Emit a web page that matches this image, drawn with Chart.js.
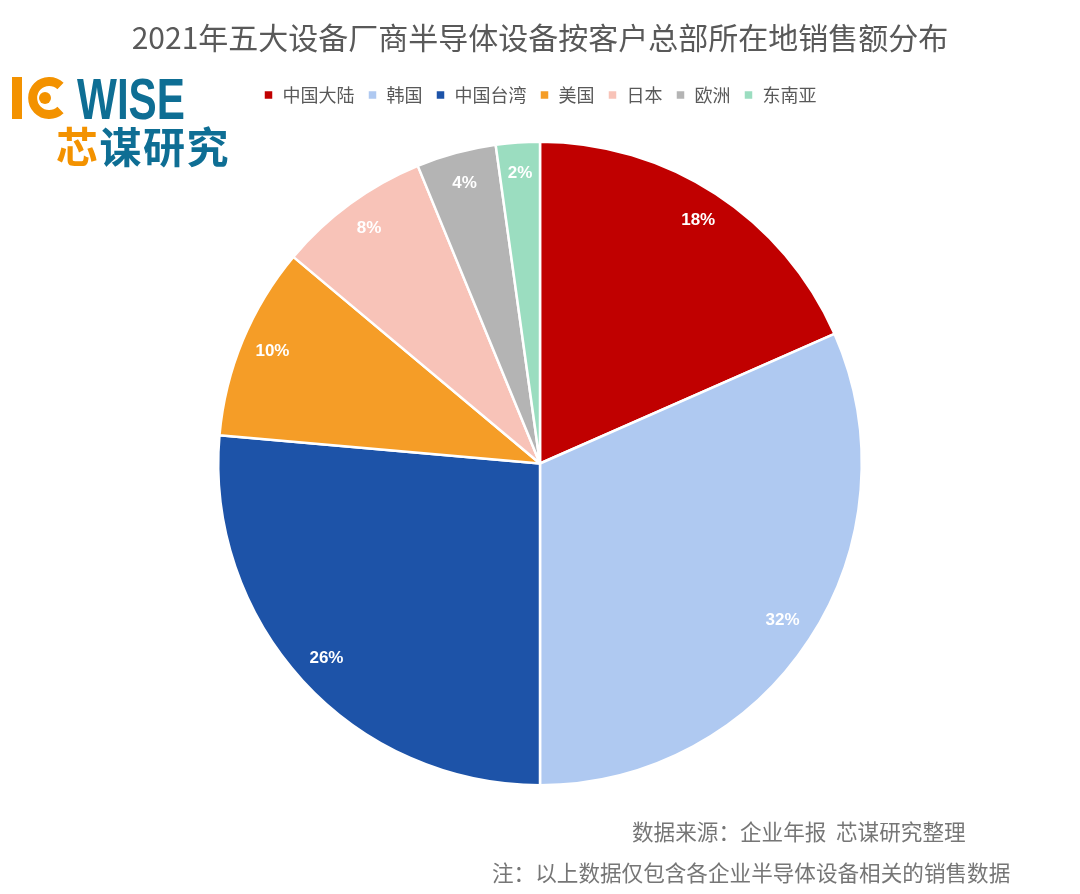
<!DOCTYPE html>
<html>
<head>
<meta charset="utf-8">
<script src="https://cdn.jsdelivr.net/npm/chart.js@4.4.1/dist/chart.umd.min.js"></script>
<style>
  html, body { margin: 0; padding: 0; background: #ffffff; }
  #wrap { position: relative; width: 1080px; height: 894px; overflow: hidden; font-family: "Noto Sans CJK SC", "Noto Sans", sans-serif; }
  #title { position: absolute; left: 0; top: 14px; width: 1080px; text-align: center; font-size: 30px; color: #595959; line-height: 44px; }
  #chartBox { position: absolute; left: 0; top: 0; width: 1080px; height: 894px; }
  .note { position: absolute; color: #767676; font-size: 21.6px; line-height: 30px; white-space: pre; }
  #logo1 { position: absolute; left: 10px; top: 64px; height: 60px; }
  #logo2 { position: absolute; left: 56px; top: 117px; font-size: 42px; font-weight: 700; line-height: 56px; letter-spacing: 1.5px; color: #0E6E94; }
</style>
</head>
<body>
<div id="wrap">
  <div id="chartBox"><canvas id="c" width="1080" height="894"></canvas></div>
  <div id="title">2021年五大设备厂商半导体设备按客户总部所在地销售额分布</div>
  <svg id="logo1" width="190" height="60" viewBox="0 0 190 60">
    <rect x="2" y="13" width="10" height="42" fill="#F39200"/>
    <path d="M 50.5 22 A 16.5 16.5 0 1 0 50.5 46" fill="none" stroke="#F39200" stroke-width="9"/>
    <circle cx="35" cy="34" r="6" fill="#F39200"/>
    <text x="67" y="55" font-family="Liberation Sans, Arial, sans-serif" font-weight="700" font-size="57" fill="#0E6E94" textLength="108" lengthAdjust="spacingAndGlyphs">WISE</text>
  </svg>
  <div id="logo2"><span style="color:#F39200">芯</span>谋研究</div>
  <div class="note" style="left:632px; top:816px;">数据来源：企业年报  芯谋研究整理</div>
  <div class="note" style="left:492px; top:857px;">注：以上数据仅包含各企业半导体设备相关的销售数据</div>
</div>
<script>
const categories = ["中国大陆", "韩国", "中国台湾", "美国", "日本", "欧洲", "东南亚"];
const shares = [18.4, 31.6, 26.4, 9.7, 7.7, 4.0, 2.2];
const shareLabels = ["18%", "32%", "26%", "10%", "8%", "4%", "2%"];
const colors = ["#C00000", "#AFC9F1", "#1D53A8", "#F59D27", "#F8C3B8", "#B4B4B4", "#9BDDC0"];

const labelPlugin = {
  id: 'sliceLabels',
  afterDatasetsDraw(chart) {
    const ctx = chart.ctx;
    const meta = chart.getDatasetMeta(0);
    ctx.save();
    ctx.fillStyle = '#ffffff';
    ctx.font = 'bold 17px "Liberation Sans", Arial, sans-serif';
    ctx.textAlign = 'center';
    ctx.textBaseline = 'middle';
    meta.data.forEach((arc, i) => {
      const p = arc.getProps(['x', 'y', 'startAngle', 'endAngle', 'outerRadius'], true);
      const mid = (p.startAngle + p.endAngle) / 2;
      const r = p.outerRadius * 0.9;
      ctx.fillText(shareLabels[i], p.x + Math.cos(mid) * r, p.y + Math.sin(mid) * r - 1);
    });
    ctx.restore();
  }
};

new Chart(document.getElementById('c'), {
  type: 'pie',
  data: {
    labels: categories,
    datasets: [{
      data: shares,
      backgroundColor: colors,
      borderColor: '#ffffff',
      borderWidth: 2.5
    }]
  },
  options: {
    responsive: false,
    animation: false,
    layout: { padding: { top: 73, bottom: 81, left: 217, right: 217 } },
    plugins: {
      legend: {
        position: 'top',
        labels: {
          boxWidth: 10,
          boxHeight: 10,
          padding: 13,
          color: '#595959',
          font: { family: '"Noto Sans CJK SC", sans-serif', size: 18 }
        }
      },
      tooltip: { enabled: false },
      title: { display: false }
    }
  },
  plugins: [labelPlugin]
});
</script>
</body>
</html>
